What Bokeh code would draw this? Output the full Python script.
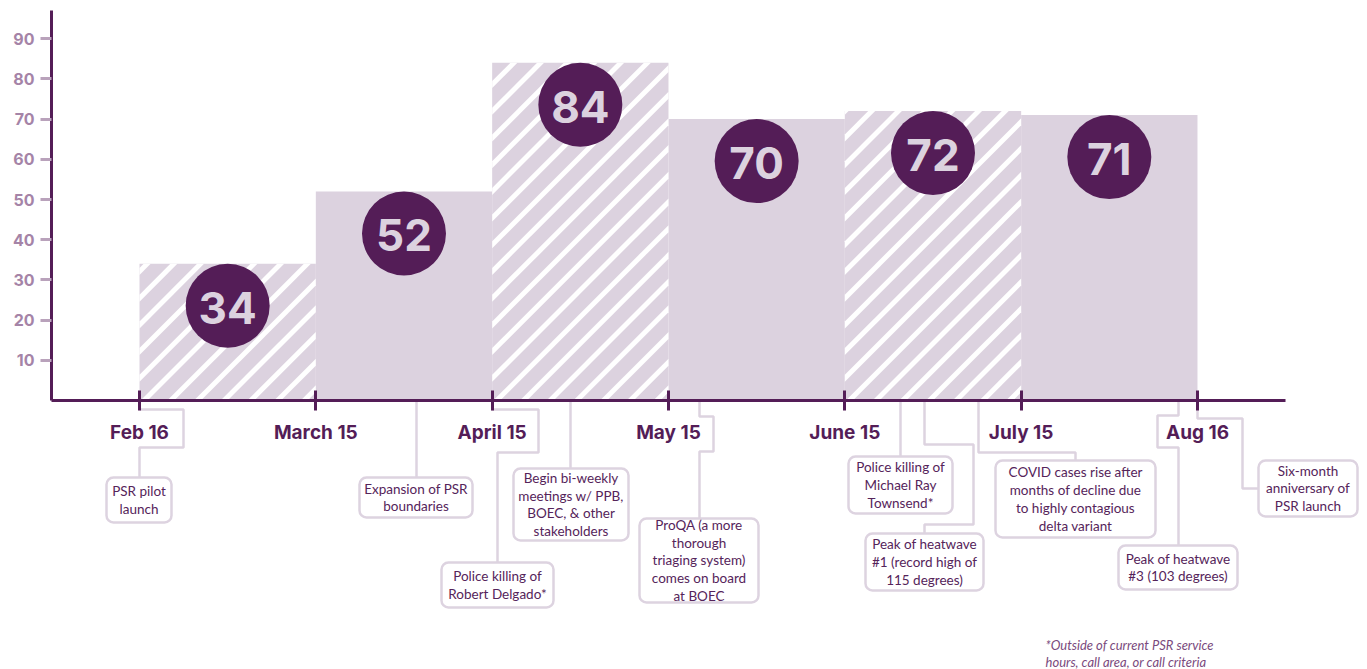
from bokeh.plotting import figure, ColumnDataSource
from bokeh.models import LinearAxis, FixedTicker, Range1d
from bokeh.embed import file_html
from bokeh.resources import INLINE
from bokeh.core.properties import value
import math

# ---------------- data ----------------
month_labels = ["Feb 16", "March 15", "April 15", "May 15", "June 15", "July 15", "Aug 16"]
counts = [34, 52, 84, 70, 72, 71]
hatched = [True, False, True, False, True, False]
y_ticks = [10, 20, 30, 40, 50, 60, 70, 80, 90]

event_texts = [
    "PSR pilot\nlaunch",
    "Expansion of PSR\nboundaries",
    "Police killing of\nRobert Delgado*",
    "Begin bi-weekly\nmeetings w/ PPB,\nBOEC, & other\nstakeholders",
    "ProQA (a more\nthorough\ntriaging system)\ncomes on board\nat BOEC",
    "Police killing of\nMichael Ray\nTownsend*",
    "Peak of heatwave\n#1 (record high of\n115 degrees)",
    "COVID cases rise after\nmonths of decline due\nto highly contagious\ndelta variant",
    "Peak of heatwave\n#3 (103 degrees)",
    "Six-month\nanniversary of\nPSR launch",
]
footnote = "*Outside of current PSR service\nhours, call area, or call criteria"

# ---------------- layout (page pixels) ----------------
X0, DX = 139.0, 176.33   # page x of first tick, px per period
Y0, DY = 400.0, 4.02     # page y of zero, px per unit

def dx(px):
    return (px - X0) / DX

def dy(py):
    return (Y0 - py) / DY

# callout boxes: left, top, right, bottom (page px)
boxes = [
    (106, 477, 171, 522),
    (359, 477, 472, 517),
    (441, 562, 553, 607),
    (513, 468, 628, 540),
    (639, 518, 758, 602),
    (848, 456, 952, 513),
    (865, 533, 983, 590),
    (995, 460, 1155, 537),
    (1118, 545, 1237, 589),
    (1258, 460, 1357, 516),
]
# connector paths (page px)
paths = [
    [(139, 409), (183, 409), (183, 447), (139, 447), (139, 477)],
    [(416, 400), (416, 477)],
    [(491, 409), (538, 409), (538, 452), (497, 452), (497, 562)],
    [(570, 400), (570, 468)],
    [(699, 400), (699, 416), (713, 416), (713, 451), (699, 451), (699, 518)],
    [(900, 400), (900, 456)],
    [(924, 400), (924, 444), (973, 444), (973, 524), (924, 524), (924, 533)],
    [(978, 400), (978, 452), (1075, 452), (1075, 460)],
    [(1178, 400), (1178, 415), (1157, 415), (1157, 447), (1178, 447), (1178, 545)],
    [(1197, 409), (1197, 418), (1242, 418), (1242, 488), (1258, 488)],
]

BAR = "#DCD2DF"
DARK = "#541D57"
YLAB = "#A584A7"
YTICK = "#B9A2BB"
LINE = "#DDD3E0"
TXT = "#55245A"

W, H = 1367, 669
p = figure(width=W, height=H, output_backend="svg", toolbar_location=None,
           x_range=Range1d(dx(0), dx(W)), y_range=Range1d(dy(H), dy(0)),
           x_axis_type=None, y_axis_type=None, min_border=0,
           outline_line_color=None, background_fill_color="white")

# ---------------- bars ----------------
n = len(counts)
p.quad(left=list(range(n)), right=[i + 1 for i in range(n)], bottom=0, top=counts,
       fill_color=BAR, line_color=None)

# 45-degree white stripes over hatched bars (computed in pixel space, clipped to bar)
PERIOD, SW, PHASE = 26.7, 7.0, 1.0

def clip(poly, a, b, c):
    out = []
    m = len(poly)
    for k in range(m):
        p1, p2 = poly[k], poly[(k + 1) % m]
        f1 = a * p1[0] + b * p1[1] - c
        f2 = a * p2[0] + b * p2[1] - c
        if f1 <= 0:
            out.append(p1)
        if (f1 < 0 < f2) or (f2 < 0 < f1):
            t = f1 / (f1 - f2)
            out.append((p1[0] + t * (p2[0] - p1[0]), p1[1] + t * (p2[1] - p1[1])))
    return out

sx, sy = [], []
for i in range(n):
    if not hatched[i]:
        continue
    w = DX
    h = counts[i] * DY
    rect = [(0, 0), (w, 0), (w, h), (0, h)]
    kmin = math.floor((-h - PHASE) / PERIOD) - 1
    kmax = math.ceil((w - PHASE) / PERIOD) + 1
    for k in range(kmin, kmax + 1):
        c0 = PHASE + k * PERIOD
        poly = clip(rect, -1, 1, -c0)
        if len(poly) < 3:
            continue
        poly = clip(poly, 1, -1, c0 + SW)
        if len(poly) < 3:
            continue
        sx.append([i + u / DX for u, v in poly])
        sy.append([v / DY for u, v in poly])
p.patches(xs=sx, ys=sy, fill_color="white", line_color=None)

# ---------------- value circles ----------------
R = 42  # px
cx = [i + 0.5 for i in range(n)]
cy = [c - R / DY for c in counts]
p.scatter(x=cx, y=cy, size=2 * R, fill_color=DARK, line_color=None)
p.text(x=cx, y=cy, text=[str(c) for c in counts], text_align="center",
       text_baseline="middle", text_font=value("Inter"), text_font_style="bold",
       text_font_size="44px", text_color=BAR, y_offset=2)

# ---------------- axes ----------------
xaxis = LinearAxis(fixed_location=0, ticker=FixedTicker(ticks=list(range(len(month_labels)))),
                   major_label_overrides={i: m for i, m in enumerate(month_labels)},
                   bounds=(dx(51), dx(1285)),
                   axis_line_color=DARK, axis_line_width=3,
                   major_tick_line_color=DARK, major_tick_line_width=3,
                   major_tick_in=10, major_tick_out=10, minor_tick_line_color=None,
                   major_label_text_font="Inter", major_label_text_font_style="bold",
                   major_label_text_font_size="19px", major_label_text_color=DARK,
                   major_label_standoff=10)
p.add_layout(xaxis, "below")

yaxis = LinearAxis(fixed_location=dx(51), ticker=FixedTicker(ticks=y_ticks),
                   bounds=(0, dy(10)),
                   axis_line_color=DARK, axis_line_width=3,
                   major_tick_line_color=YTICK, major_tick_line_width=3,
                   major_tick_in=0, major_tick_out=11, minor_tick_line_color=None,
                   major_label_text_font="Inter", major_label_text_font_style="bold",
                   major_label_text_font_size="16px", major_label_text_color=YLAB,
                   major_label_standoff=6)
p.add_layout(yaxis, "left")

# ---------------- callouts ----------------
p.multi_line(xs=[[dx(a) for a, b in path] for path in paths],
             ys=[[dy(b) for a, b in path] for path in paths],
             line_color=LINE, line_width=2.5)

src = ColumnDataSource(dict(
    left=[dx(b[0]) for b in boxes], right=[dx(b[2]) for b in boxes],
    top=[dy(b[1]) for b in boxes], bottom=[dy(b[3]) for b in boxes],
    cx=[dx((b[0] + b[2]) / 2) for b in boxes], cy=[dy((b[1] + b[3]) / 2) for b in boxes],
    text=event_texts))
p.quad(left="left", right="right", top="top", bottom="bottom", source=src,
       fill_color="white", line_color=LINE, line_width=2.5, border_radius=7)
p.text(x="cx", y="cy", text="text", source=src, text_align="center",
       text_baseline="middle", text_font=value("Lato"), text_font_size="13.5px",
       text_color=TXT, text_line_height=1.12)

p.text(x=[dx(1045)], y=[dy(653)], text=[footnote], text_align="left",
       text_baseline="middle", text_font=value("Lato"), text_font_style="italic",
       text_font_size="13px", text_color="#7A4A7D", text_line_height=1.08)

open("out.html", "w").write(file_html(p, INLINE))
